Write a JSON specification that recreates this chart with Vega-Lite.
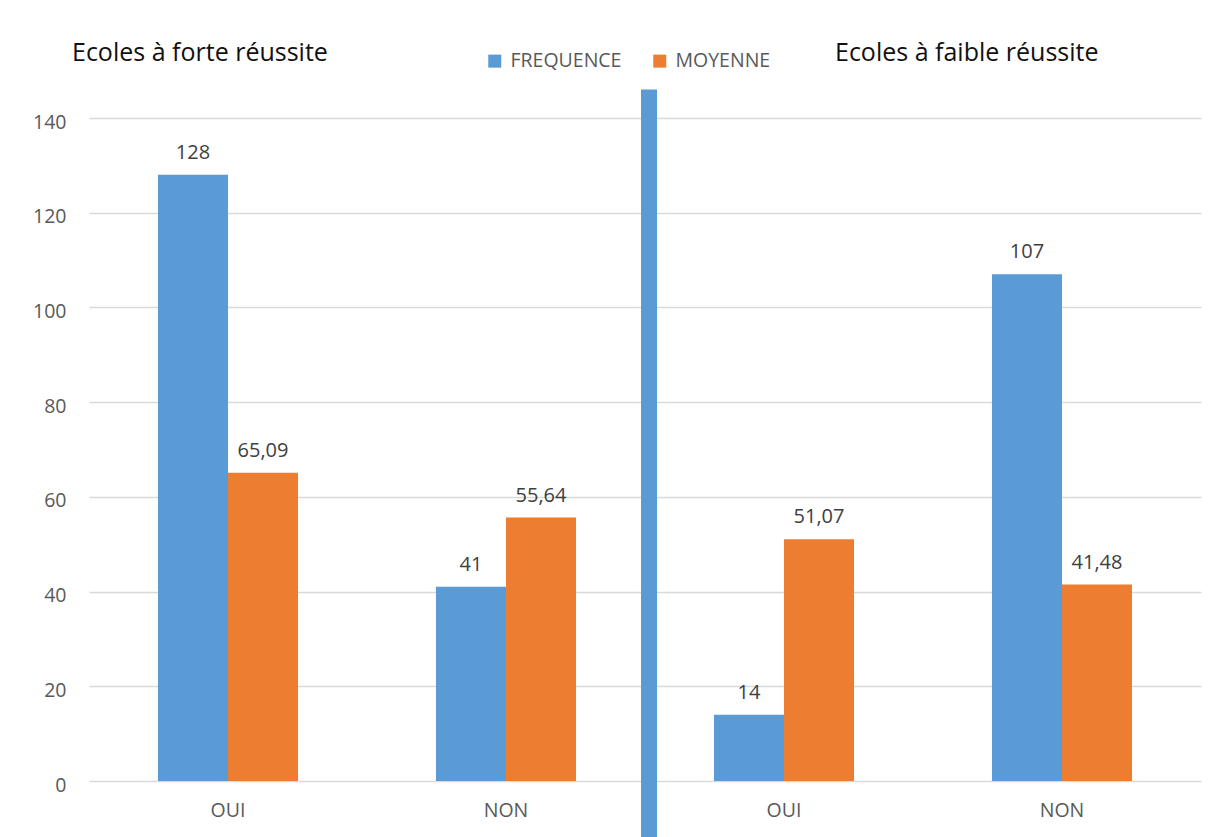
{
  "$schema": "https://vega.github.io/schema/vega-lite/v6.json",
  "autosize": {"type": "none"},
  "width": 1112,
  "height": 663,
  "padding": {"left": 89, "top": 118, "right": 22, "bottom": 56},
  "background": "white",
  "config": {
    "font": "Open Sans",
    "view": {"stroke": null},
    "axis": {"labelFont": "Open Sans", "labelColor": "#595959", "labelFontSize": 19.5},
    "legend": {"labelFont": "Open Sans"}
  },
  "datasets": {
    "bars": [
      {"grp": "g1", "series": "FREQUENCE", "value": 128, "label": "128"},
      {"grp": "g1", "series": "MOYENNE", "value": 65.09, "label": "65,09"},
      {"grp": "g2", "series": "FREQUENCE", "value": 41, "label": "41"},
      {"grp": "g2", "series": "MOYENNE", "value": 55.64, "label": "55,64"},
      {"grp": "g3", "series": "FREQUENCE", "value": 14, "label": "14"},
      {"grp": "g3", "series": "MOYENNE", "value": 51.07, "label": "51,07"},
      {"grp": "g4", "series": "FREQUENCE", "value": 107, "label": "107"},
      {"grp": "g4", "series": "MOYENNE", "value": 41.48, "label": "41,48"}
    ],
    "titles": [
      {"grp": "g1", "title": "Ecoles à forte réussite", "ty": 152},
      {"grp": "g3", "title": "Ecoles à faible réussite", "ty": 152}
    ],
    "divider": [
      {"grp": "g2", "top": 146, "bottom": -12}
    ]
  },
  "layer": [
    {
      "data": {"name": "bars"},
      "mark": {"type": "bar"},
      "encoding": {
        "x": {
          "field": "grp", "type": "nominal",
          "scale": {"domain": ["g1", "g2", "g3", "g4"], "paddingInner": 0, "paddingOuter": 0},
          "axis": {
            "title": null, "domain": false, "ticks": false, "labelPadding": 20, "labelAngle": 0,
            "labelExpr": "datum.value == 'g1' || datum.value == 'g3' ? 'OUI' : 'NON'"
          }
        },
        "xOffset": {
          "field": "series", "type": "nominal",
          "scale": {"domain": ["FREQUENCE", "MOYENNE"], "paddingInner": 0, "paddingOuter": 0.985}
        },
        "y": {
          "field": "value", "type": "quantitative",
          "scale": {"domain": [0, 140], "nice": false},
          "axis": {
            "title": null, "domain": false, "ticks": false, "values": [0, 20, 40, 60, 80, 100, 120, 140],
            "gridColor": "#D9D9D9", "gridWidth": 1.5, "labelPadding": 23, "labelOffset": 4
          }
        },
        "color": {
          "field": "series", "type": "nominal",
          "scale": {"domain": ["FREQUENCE", "MOYENNE"], "range": ["#5B9BD5", "#ED7D31"]},
          "legend": {
            "title": null, "orient": "none", "legendX": 396, "legendY": -67, "direction": "horizontal",
            "symbolType": "square", "symbolSize": 169, "symbolStrokeWidth": 0, "labelFontSize": 19.5,
            "labelColor": "#595959", "labelOffset": 6, "columnPadding": 28
          }
        }
      }
    },
    {
      "data": {"name": "bars"},
      "mark": {"type": "text", "baseline": "alphabetic", "dy": -16, "fontSize": 20, "color": "#404040"},
      "encoding": {
        "x": {"field": "grp", "type": "nominal"},
        "xOffset": {"field": "series", "type": "nominal"},
        "y": {"field": "value", "type": "quantitative"},
        "text": {"field": "label"}
      }
    },
    {
      "data": {"name": "divider"},
      "mark": {"type": "rule", "color": "#5B9BD5", "strokeWidth": 16, "clip": false, "xOffset": 4, "strokeCap": "butt"},
      "encoding": {
        "x": {"field": "grp", "type": "nominal", "bandPosition": 1},
        "y": {"field": "top", "type": "quantitative"},
        "y2": {"field": "bottom"}
      }
    },
    {
      "data": {"name": "titles"},
      "transform": [{"filter": "datum.grp == 'g1'"}],
      "mark": {"type": "text", "align": "left", "baseline": "alphabetic", "fontSize": 25, "color": "#111111", "dx": -17, "clip": false},
      "encoding": {
        "x": {"field": "grp", "type": "nominal", "bandPosition": 0},
        "y": {"field": "ty", "type": "quantitative"},
        "text": {"field": "title"}
      }
    },
    {
      "data": {"name": "titles"},
      "transform": [{"filter": "datum.grp == 'g3'"}],
      "mark": {"type": "text", "align": "left", "baseline": "alphabetic", "fontSize": 25, "color": "#111111", "dx": 190, "clip": false},
      "encoding": {
        "x": {"field": "grp", "type": "nominal", "bandPosition": 0},
        "y": {"field": "ty", "type": "quantitative"},
        "text": {"field": "title"}
      }
    }
  ]
}
